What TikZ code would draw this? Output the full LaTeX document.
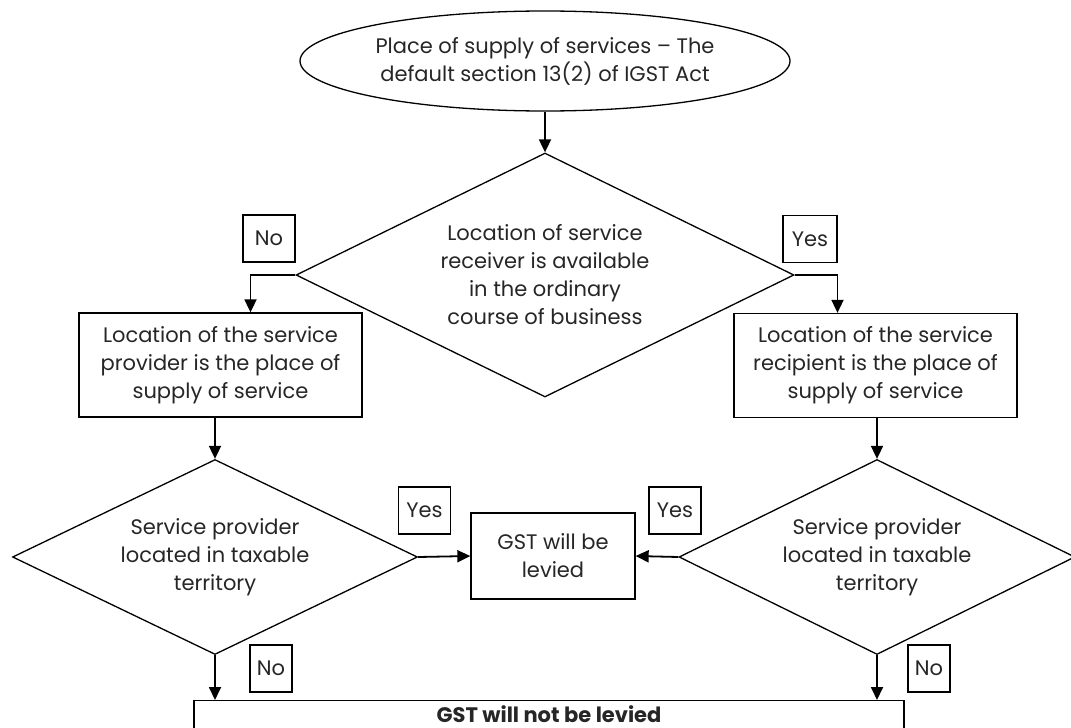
\documentclass[tikz,border=0pt]{standalone}
\usepackage{fontspec}
\setmainfont{Poppins}
\usetikzlibrary{shapes.geometric,arrows.meta}
\begin{document}
\begin{tikzpicture}[x=1pt,y=-1pt,
  every node/.style={font=\fontsize{21}{28}\selectfont, text=black!85, align=center},
  ell/.style={draw, ellipse, line width=1.3pt, minimum width=490, minimum height=100, inner sep=0},
  dia/.style={draw, diamond, line width=1.3pt, inner sep=0},
  box/.style={draw, rectangle, line width=1.3pt, inner sep=0},
  lab/.style={draw, rectangle, line width=1.1pt, minimum width=52, minimum height=47, inner sep=0},
  arr/.style={line width=1.8pt, -{Triangle[length=13pt,width=12pt]}}
]
\useasboundingbox (0,0) rectangle (1071,728);
\clip (0,0) rectangle (1071,728);
\node[ell] (start) at (545,61) {Place of supply of services -- The\\default section 13(2) of IGST Act};
\node[dia, aspect=2.04, minimum width=498, minimum height=244] (q1) at (545,275) {Location of service\\receiver is available\\in the ordinary\\course of business};
\node[box, minimum width=283, minimum height=104] (lbox) at (220.5,365) {Location of the service\\provider is the place of\\supply of service};
\node[box, minimum width=283, minimum height=104] (rbox) at (875.5,365.5) {Location of the service\\recipient is the place of\\supply of service};
\node[dia, aspect=2.08, minimum width=405, minimum height=195] (ld) at (215,557) {Service provider\\located in taxable\\territory};
\node[dia, aspect=2.08, minimum width=396, minimum height=195] (rd) at (877,557) {Service provider\\located in taxable\\territory};
\node[box, minimum width=164, minimum height=86] (gst) at (553,556) {GST will be\\levied};
\node[lab] (no1) at (269,238.5) {No};
\node[lab, minimum width=54] (yes1) at (810,239) {Yes};
\node[lab] (yes2) at (424.5,510.5) {Yes};
\node[lab] (yes3) at (675,510.5) {Yes};
\node[lab, minimum width=42] (no2) at (271,668.5) {No};
\node[lab, minimum width=42] (no3) at (929,668.5) {No};
\node[draw, line width=1.3pt, anchor=north, minimum width=710, minimum height=60, inner sep=0] (bot) at (549,700) {};
\node[anchor=base, font=\fontsize{21}{28}\selectfont\bfseries, inner sep=0] (bottext) at (549,722) {GST will not be levied};
\draw[arr] (start.south) -- (q1.north);
\draw[arr] (q1.west) -| ([xshift=30]lbox.north);
\draw[arr] (q1.east) -| ([xshift=-38]rbox.north);
\draw[arr] (lbox.south -| ld.north) -- (ld.north);
\draw[arr] (rbox.south -| rd.north) -- (rd.north);
\draw[arr] (ld.east) -- (gst.west);
\draw[arr] (rd.west) -- (gst.east);
\draw[arr] (ld.south) -- (ld.south |- bot.north);
\draw[arr] (rd.south) -- (rd.south |- bot.north);
\end{tikzpicture}
\end{document}
